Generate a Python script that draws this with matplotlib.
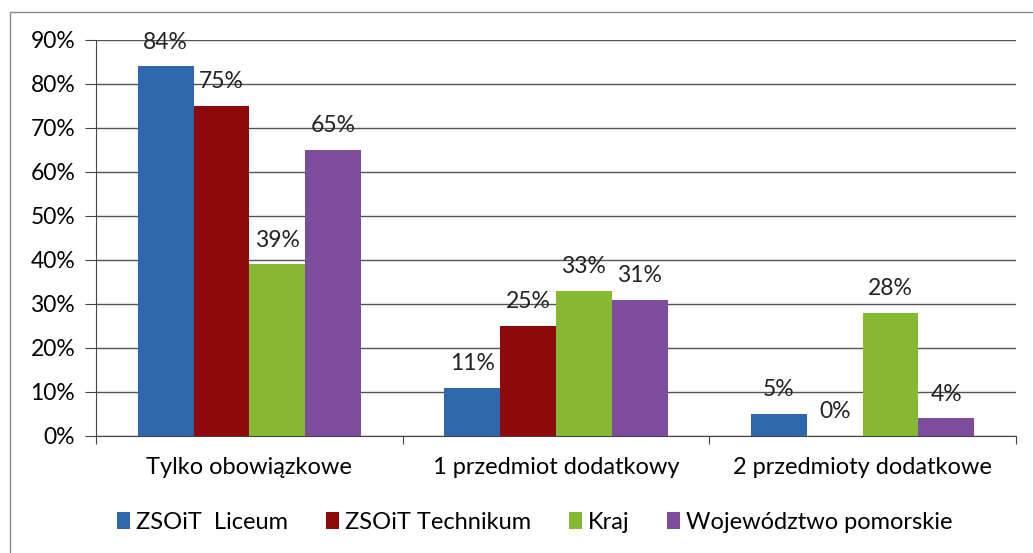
import matplotlib
matplotlib.use("Agg")
import matplotlib.pyplot as plt
import numpy as np
from matplotlib.patches import Rectangle
from matplotlib.ticker import MultipleLocator, PercentFormatter

categories = ["Tylko obowiązkowe", "1 przedmiot dodatkowy", "2 przedmioty dodatkowe"]
series_names = ["ZSOiT  Liceum", "ZSOiT Technikum", "Kraj", "Województwo pomorskie"]
liceum = [84, 11, 5]
technikum = [75, 25, 0]
kraj = [39, 33, 28]
pomorskie = [65, 31, 4]
colors = ["#2f67ad", "#8e0a0a", "#86b832", "#7d4c9c"]

plt.rcParams["font.family"] = ["Lato", "DejaVu Sans"]

fig = plt.figure(figsize=(10.33, 5.53), dpi=100)
fig.patch.set_facecolor("white")
ax = fig.add_axes([96 / 1033, 1 - 436 / 553, (1016 - 96) / 1033, (436 - 40) / 553])

# outer chart frame
fig.patches.append(Rectangle((10 / 1033, -0.1), 1.2, 1 - 12 / 553 + 0.1,
                             transform=fig.transFigure, fill=False,
                             edgecolor="#8a8a8a", linewidth=1.0))

x = np.arange(len(categories))
w = 0.182
data = [liceum, technikum, kraj, pomorskie]
for i, (vals, name, c) in enumerate(zip(data, series_names, colors)):
    bars = ax.bar(x + (i - 1.5) * w, vals, width=w, color=c, label=name, zorder=3)
    for b, v in zip(bars, vals):
        ax.annotate(f"{v}%", (b.get_x() + b.get_width() / 2, v),
                    xytext=(0, 10), textcoords="offset points", ha="center",
                    va="bottom", fontsize=16.5, color="#222222", zorder=4)

ax.set_xlim(-0.5, 2.5)
ax.set_ylim(0, 90)
ax.yaxis.set_major_locator(MultipleLocator(10))
ax.yaxis.set_major_formatter(PercentFormatter(decimals=0))
ax.grid(axis="y", color="#555555", linewidth=1.0, zorder=0)
ax.set_axisbelow(True)

ax.set_xticks([-0.5, 0.5, 1.5, 2.5])
ax.set_xticklabels([])
ax.set_xticks(x, minor=True)
ax.set_xticklabels(categories, minor=True, fontsize=17)
ax.tick_params(axis="x", which="minor", length=0, pad=15)
ax.tick_params(axis="x", which="major", length=6, color="#444444")
ax.tick_params(axis="y", length=8, color="#444444", labelsize=16.5, pad=7)

for s in ["top", "right"]:
    ax.spines[s].set_visible(False)
ax.spines["left"].set_color("#444444")
ax.spines["bottom"].set_color("#444444")

ax.legend(loc="center", bbox_to_anchor=(0.477, -0.218), ncol=4, frameon=False,
          fontsize=17, handlelength=0.55, handleheight=0.75, handletextpad=0.25,
          columnspacing=1.6)

fig.savefig("out.png", dpi=100)
